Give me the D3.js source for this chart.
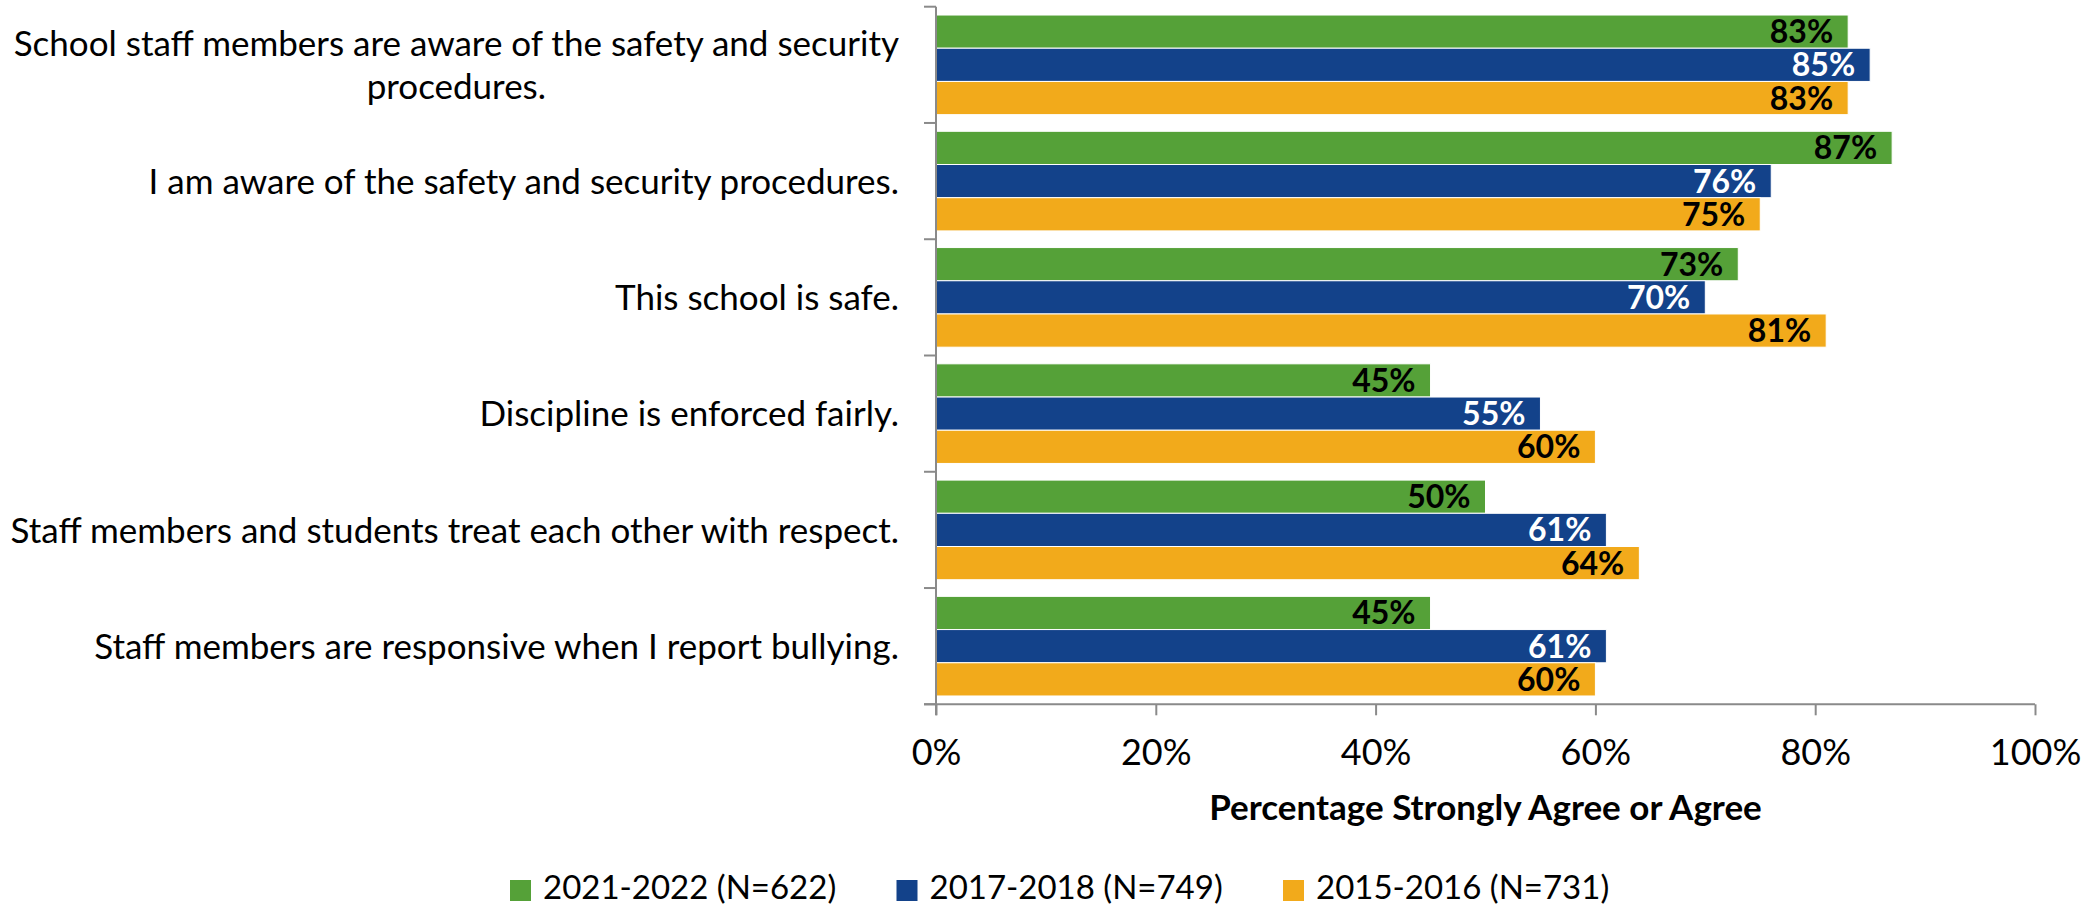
<!DOCTYPE html>
<html>
<head>
<meta charset="utf-8">
<script src="https://cdn.jsdelivr.net/npm/d3@7"></script>
<style>
  html, body { margin: 0; padding: 0; background: #fff; }
  svg { display: block; }
  text { font-family: "Lato", "Open Sans", "Liberation Sans", sans-serif; }
</style>
</head>
<body>
<svg id="chart" width="2094" height="906"></svg>
<script>
const categories = [
  ["School staff members are aware of the safety and security", "procedures."],
  ["I am aware of the safety and security procedures."],
  ["This school is safe."],
  ["Discipline is enforced fairly."],
  ["Staff members and students treat each other with respect."],
  ["Staff members are responsive when I report bullying."]
];
const seriesNames = ["2021-2022 (N=622)", "2017-2018 (N=749)", "2015-2016 (N=731)"];
const values2021 = [0.83, 0.87, 0.73, 0.45, 0.50, 0.45];
const values2017 = [0.85, 0.76, 0.70, 0.55, 0.61, 0.61];
const values2015 = [0.83, 0.75, 0.81, 0.60, 0.64, 0.60];
const xTicks = [0, 0.2, 0.4, 0.6, 0.8, 1.0];
const xTitle = "Percentage Strongly Agree or Agree";

(function () {
const colors = ["#55A138", "#13428A", "#F2AA1B"];
const labelColors = ["#000", "#fff", "#000"];
const seriesValues = [values2021, values2017, values2015];

const svg = d3.select("#chart");
const pLeft = 936, pRight = 2035, pTop = 6.7, pBottom = 704.3;

const x = d3.scaleLinear().domain([0, 1]).range([pLeft, pRight]);
const y0 = d3.scaleBand().domain(d3.range(categories.length)).range([pTop, pBottom]).padding(0);
const bw = y0.bandwidth();
const pad = bw * 0.0716;
const y1 = d3.scaleBand().domain(d3.range(seriesNames.length)).range([pad, bw - pad]).padding(0);

const groups = svg.append("g").selectAll("g")
  .data(categories.map((c, i) => i))
  .join("g")
  .attr("transform", i => `translate(0,${y0(i)})`);

groups.selectAll("rect")
  .data(i => seriesValues.map((vals, s) => ({ s, v: vals[i] })))
  .join("rect")
  .attr("x", x(0))
  .attr("y", d => y1(d.s))
  .attr("width", d => x(d.v) - x(0))
  .attr("height", y1.bandwidth())
  .attr("fill", d => colors[d.s])
  .attr("stroke", "#ffffff")
  .attr("stroke-width", 1);

groups.selectAll("text.val")
  .data(i => seriesValues.map((vals, s) => ({ s, v: vals[i] })))
  .join("text")
  .attr("class", "val")
  .attr("x", d => x(d.v) - 15)
  .attr("y", d => y1(d.s) + y1.bandwidth() / 2)
  .attr("dy", "0.36em")
  .attr("text-anchor", "end")
  .attr("font-size", 32)
  .attr("font-weight", "bold")
  .attr("fill", d => labelColors[d.s])
  .text(d => d3.format(".0%")(d.v));

const axisColor = "#8a8a8a";
const xAxis = d3.axisBottom(x).tickValues(xTicks).tickFormat(d3.format(".0%")).tickSize(11).tickPadding(24);
const gx = svg.append("g").attr("transform", `translate(0,${pBottom})`).call(xAxis);
gx.select(".domain").attr("stroke", axisColor).attr("stroke-width", 2).attr("d", `M${pLeft - 12},0H${pRight}`);
gx.selectAll(".tick line").attr("stroke", axisColor).attr("stroke-width", 2);
gx.selectAll(".tick text").attr("font-size", 36).attr("fill", "#000")
  .style("font-family", '"Lato", "Open Sans", sans-serif');

const yBoundaries = d3.range(categories.length + 1).map(i => pTop + i * bw);
svg.append("line").attr("x1", pLeft).attr("x2", pLeft).attr("y1", pTop).attr("y2", pBottom + 11)
  .attr("stroke", axisColor).attr("stroke-width", 2);
svg.append("g").selectAll("line").data(yBoundaries).join("line")
  .attr("x1", pLeft - 12).attr("x2", pLeft).attr("y1", d => d).attr("y2", d => d)
  .attr("stroke", axisColor).attr("stroke-width", 2);

const catG = svg.append("g");
categories.forEach((lines, i) => {
  const cy = y0(i) + bw / 2;
  const lh = 43;
  const t = catG.append("text")
    .attr("text-anchor", lines.length > 1 ? "middle" : "end")
    .attr("font-size", 35)
    .attr("fill", "#000");
  lines.forEach((ln, k) => {
    t.append("tspan")
      .attr("x", 899)
      .attr("y", cy + (k - (lines.length - 1) / 2) * lh)
      .attr("dy", "0.36em")
      .text(ln);
  });
});
catG.selectAll("text").each(function() {
  const tspans = d3.select(this).selectAll("tspan");
  if (tspans.size() > 1) {
    const first = tspans.node();
    const w = first.getComputedTextLength();
    tspans.attr("x", 899 - w / 2);
  }
});

svg.append("text")
  .attr("x", (pLeft + pRight) / 2)
  .attr("y", 807)
  .attr("dy", "0.36em")
  .attr("text-anchor", "middle")
  .attr("font-size", 35)
  .attr("font-weight", "bold")
  .attr("fill", "#000")
  .text(xTitle);

const legend = svg.append("g");
seriesNames.forEach((name, s) => {
  const lx = 510 + s * 386.5;
  legend.append("rect").attr("x", lx).attr("y", 880).attr("width", 21).attr("height", 21).attr("fill", colors[s]);
  legend.append("text").attr("x", lx + 33).attr("y", 887).attr("dy", "0.36em")
    .attr("font-size", 33).attr("fill", "#000").text(name);
});
})();
</script>
</body>
</html>
